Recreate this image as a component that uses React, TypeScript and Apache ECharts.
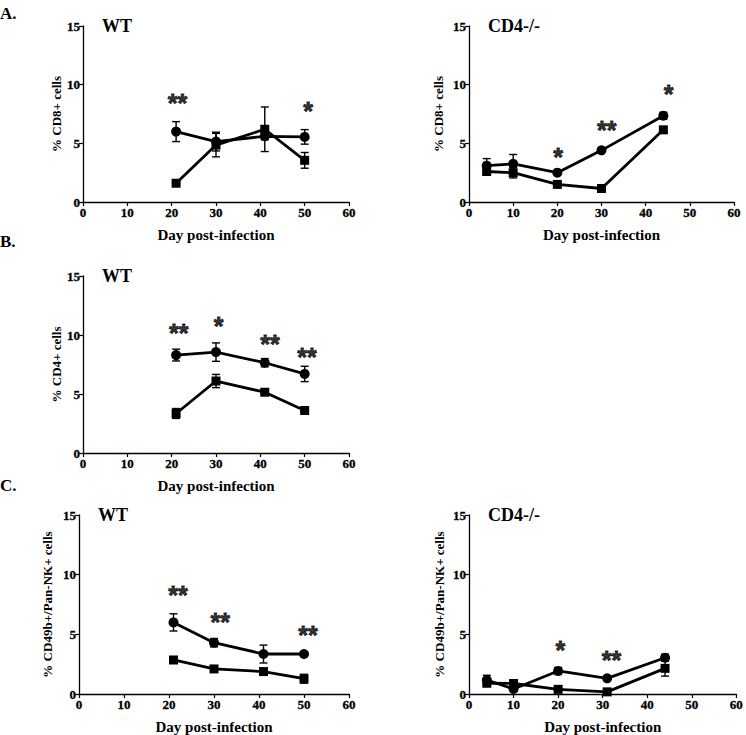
import React, { useEffect, useRef } from "react";
import * as echarts from "echarts";

// ---------- Data ----------
// Panel A – WT, % CD8+ cells
const A_WT_DAYS = [21, 30, 41, 50];
const A_WT_CIRCLE = [6.0, 5.15, 5.6, 5.55];
const A_WT_CIRCLE_ERR = [0.85, 0.8, 0.3, 0.62];
const A_WT_SQUARE = [1.6, 4.85, 6.2, 3.55];
const A_WT_SQUARE_ERR = [0.1, 1.0, 1.9, 0.67];
const A_WT_STAR_X = [21.3, 50.8];
const A_WT_STAR_Y = [8.9, 8.15];
const A_WT_STAR_T = ["**", "*"];

// Panel A – CD4-/-, % CD8+ cells
const A_KO_DAYS = [4, 10, 20, 30, 44];
const A_KO_CIRCLE = [3.1, 3.25, 2.5, 4.4, 7.35];
const A_KO_CIRCLE_ERR = [0.6, 0.8, 0.1, 0.1, 0.3];
const A_KO_SQUARE = [2.6, 2.5, 1.5, 1.15, 6.15];
const A_KO_SQUARE_ERR = [0.2, 0.45, 0.1, 0.15, 0.2];
const A_KO_STAR_X = [20.2, 31.2, 45.2];
const A_KO_STAR_Y = [4.28, 6.6, 9.65];
const A_KO_STAR_T = ["*", "**", "*"];

// Panel B – WT, % CD4+ cells
const B_WT_DAYS = [21, 30, 41, 50];
const B_WT_CIRCLE = [8.3, 8.55, 7.65, 6.7];
const B_WT_CIRCLE_ERR = [0.5, 0.78, 0.35, 0.65];
const B_WT_SQUARE = [3.35, 6.1, 5.15, 3.6];
const B_WT_SQUARE_ERR = [0.42, 0.56, 0.12, 0.12];
const B_WT_STAR_X = [21.6, 30.6, 42.2, 50.5];
const B_WT_STAR_Y = [10.56, 11.15, 9.65, 8.58];
const B_WT_STAR_T = ["**", "*", "**", "**"];

// Panel C – WT, % CD49b+/Pan-NK+ cells
const C_WT_DAYS = [21, 30, 41, 50];
const C_WT_CIRCLE = [6.0, 4.3, 3.35, 3.35];
const C_WT_CIRCLE_ERR = [0.72, 0.35, 0.75, 0.05];
const C_WT_SQUARE = [2.85, 2.1, 1.88, 1.28];
const C_WT_SQUARE_ERR = [0.08, 0.1, 0.1, 0.37];
const C_WT_STAR_X = [22, 31.4, 50.9];
const C_WT_STAR_Y = [8.7, 6.45, 5.36];
const C_WT_STAR_T = ["**", "**", "**"];

// Panel C – CD4-/-, % CD49b+/Pan-NK+ cells
const C_KO_DAYS = [4, 10, 20, 31, 44];
const C_KO_CIRCLE = [1.17, 0.42, 1.93, 1.31, 3.04];
const C_KO_CIRCLE_ERR = [0.4, 0.1, 0.3, 0.1, 0.3];
const C_KO_SQUARE = [0.9, 0.88, 0.39, 0.18, 2.15];
const C_KO_SQUARE_ERR = [0.1, 0.1, 0.05, 0.05, 0.65];
const C_KO_STAR_X = [20.5, 32];
const C_KO_STAR_Y = [4.1, 3.27];
const C_KO_STAR_T = ["*", "**"];

const X_TICKS = [0, 10, 20, 30, 40, 50, 60];
const Y_TICKS = [0, 5, 10, 15];

const SERIF = "Liberation Serif";
const STAR_FONT = "Liberation Sans";

type Panel = {
  days: number[];
  circle: number[];
  circleErr: number[];
  square: number[];
  squareErr: number[];
  starX: number[];
  starY: number[];
  starT: string[];
  yName: string;
  title: string;
  grid: { left: number; top: number; width: number; height: number };
  nameGapY: number;
};

const PANELS: Panel[] = [
  {
    days: A_WT_DAYS, circle: A_WT_CIRCLE, circleErr: A_WT_CIRCLE_ERR,
    square: A_WT_SQUARE, squareErr: A_WT_SQUARE_ERR,
    starX: A_WT_STAR_X, starY: A_WT_STAR_Y, starT: A_WT_STAR_T,
    yName: "% CD8+ cells", title: "WT",
    grid: { left: 83, top: 26, width: 266, height: 176 }, nameGapY: 19,
  },
  {
    days: A_KO_DAYS, circle: A_KO_CIRCLE, circleErr: A_KO_CIRCLE_ERR,
    square: A_KO_SQUARE, squareErr: A_KO_SQUARE_ERR,
    starX: A_KO_STAR_X, starY: A_KO_STAR_Y, starT: A_KO_STAR_T,
    yName: "% CD8+ cells", title: "CD4-/-",
    grid: { left: 469, top: 26, width: 265, height: 176 }, nameGapY: 24,
  },
  {
    days: B_WT_DAYS, circle: B_WT_CIRCLE, circleErr: B_WT_CIRCLE_ERR,
    square: B_WT_SQUARE, squareErr: B_WT_SQUARE_ERR,
    starX: B_WT_STAR_X, starY: B_WT_STAR_Y, starT: B_WT_STAR_T,
    yName: "% CD4+ cells", title: "WT",
    grid: { left: 83, top: 276, width: 266, height: 177 }, nameGapY: 19,
  },
  {
    days: C_WT_DAYS, circle: C_WT_CIRCLE, circleErr: C_WT_CIRCLE_ERR,
    square: C_WT_SQUARE, squareErr: C_WT_SQUARE_ERR,
    starX: C_WT_STAR_X, starY: C_WT_STAR_Y, starT: C_WT_STAR_T,
    yName: "% CD49b+/Pan-NK+ cells", title: "WT",
    grid: { left: 79, top: 515, width: 270, height: 179 }, nameGapY: 25,
  },
  {
    days: C_KO_DAYS, circle: C_KO_CIRCLE, circleErr: C_KO_CIRCLE_ERR,
    square: C_KO_SQUARE, squareErr: C_KO_SQUARE_ERR,
    starX: C_KO_STAR_X, starY: C_KO_STAR_Y, starT: C_KO_STAR_T,
    yName: "% CD49b+/Pan-NK+ cells", title: "CD4-/-",
    grid: { left: 469, top: 515, width: 269, height: 179 }, nameGapY: 23,
  },
];

const errorBarRender = (params: any, api: any) => {
  const x = api.value(0);
  const y = api.value(1);
  const e = api.value(2);
  const top = api.coord([x, y + e]);
  const bot = api.coord([x, y - e]);
  const w = 4;
  const st = { stroke: "#000", lineWidth: 1.4 };
  return {
    type: "group",
    children: [
      { type: "line", shape: { x1: top[0], y1: top[1], x2: bot[0], y2: bot[1] }, style: st },
      { type: "line", shape: { x1: top[0] - w, y1: top[1], x2: top[0] + w, y2: top[1] }, style: st },
      { type: "line", shape: { x1: bot[0] - w, y1: bot[1], x2: bot[0] + w, y2: bot[1] }, style: st },
    ],
  };
};

export default function App() {
  const ref = useRef<HTMLDivElement>(null);

  useEffect(() => {
    if (!ref.current) return;
    const chart = echarts.init(ref.current, null, { renderer: "svg" });

    const grids: any[] = [];
    const xAxes: any[] = [];
    const yAxes: any[] = [];
    const series: any[] = [];
    const graphics: any[] = [];

    const tickLabel = {
      fontFamily: SERIF,
      fontWeight: "bold",
      fontSize: 13,
      color: "#000",
      textBorderColor: "#000",
      textBorderWidth: 0.3,
    };

    PANELS.forEach((p, i) => {
      grids.push({ ...p.grid, containLabel: false });
      xAxes.push({
        type: "value",
        gridIndex: i,
        min: X_TICKS[0],
        max: X_TICKS[X_TICKS.length - 1],
        interval: 10,
        name: "Day post-infection",
        nameLocation: "middle",
        nameGap: 25,
        nameTextStyle: { fontFamily: SERIF, fontWeight: "bold", fontSize: 15, color: "#000" },
        axisLine: { show: true, onZero: false, lineStyle: { color: "#000", width: 1.3 } },
        axisTick: { show: true, length: 4, lineStyle: { color: "#000", width: 1.2 } },
        axisLabel: { ...tickLabel, margin: 4 },
        splitLine: { show: false },
      });
      yAxes.push({
        type: "value",
        gridIndex: i,
        min: Y_TICKS[0],
        max: Y_TICKS[Y_TICKS.length - 1],
        interval: 5,
        name: p.yName,
        nameLocation: "middle",
        nameGap: p.nameGapY,
        nameTextStyle: { fontFamily: SERIF, fontWeight: "bold", fontSize: 13, color: "#000" },
        axisLine: { show: true, onZero: false, lineStyle: { color: "#000", width: 1.3 } },
        axisTick: { show: true, length: 4, lineStyle: { color: "#000", width: 1.2 } },
        axisLabel: { ...tickLabel, margin: 3 },
        splitLine: { show: false },
      });

      series.push({
        type: "line",
        xAxisIndex: i,
        yAxisIndex: i,
        data: p.days.map((d, k) => [d, p.square[k]]),
        symbol: "rect",
        symbolSize: 9,
        itemStyle: { color: "#000" },
        lineStyle: { color: "#000", width: 2.8 },
        z: 3,
      });
      series.push({
        type: "line",
        xAxisIndex: i,
        yAxisIndex: i,
        data: p.days.map((d, k) => [d, p.circle[k]]),
        symbol: "circle",
        symbolSize: 10,
        itemStyle: { color: "#000" },
        lineStyle: { color: "#000", width: 2.8 },
        z: 3,
      });
      series.push({
        type: "custom",
        xAxisIndex: i,
        yAxisIndex: i,
        renderItem: errorBarRender,
        encode: { x: 0, y: 1 },
        data: [
          ...p.days.map((d, k) => [d, p.circle[k], p.circleErr[k]]),
          ...p.days.map((d, k) => [d, p.square[k], p.squareErr[k]]),
        ],
        z: 4,
      });
      series.push({
        type: "scatter",
        xAxisIndex: i,
        yAxisIndex: i,
        symbolSize: 0,
        data: p.starX.map((x, k) => ({ value: [x, p.starY[k]], name: p.starT[k] })),
        label: {
          show: true,
          position: "inside",
          formatter: (v: any) => v.name,
          fontFamily: STAR_FONT,
          fontWeight: "bold",
          fontSize: 25,
          color: "#000",
          textBorderColor: "#000",
          textBorderWidth: 0.8,
          offset: [0, 5],
        },
        z: 5,
      });

      graphics.push({
        type: "text",
        x: p.grid.left + 19,
        y: p.grid.top,
        style: {
          text: p.title,
          fontFamily: SERIF,
          fontWeight: "bold",
          fontSize: 18,
          fill: "#000",
          verticalAlign: "middle",
        },
      });
    });

    const letters = [
      { t: "A.", y: 13 },
      { t: "B.", y: 241 },
      { t: "C.", y: 485 },
    ];
    letters.forEach((l) =>
      graphics.push({
        type: "text",
        x: 0,
        y: l.y,
        style: {
          text: l.t,
          fontFamily: SERIF,
          fontWeight: "bold",
          fontSize: 17,
          fill: "#000",
          verticalAlign: "middle",
        },
      })
    );

    chart.setOption({
      animation: false,
      backgroundColor: "#fff",
      grid: grids,
      xAxis: xAxes,
      yAxis: yAxes,
      series,
      graphic: graphics,
    });

    return () => chart.dispose();
  }, []);

  return (
    <div
      ref={ref}
      style={{ position: "fixed", left: 0, top: 0, width: 746, height: 735, background: "#fff" }}
    />
  );
}
